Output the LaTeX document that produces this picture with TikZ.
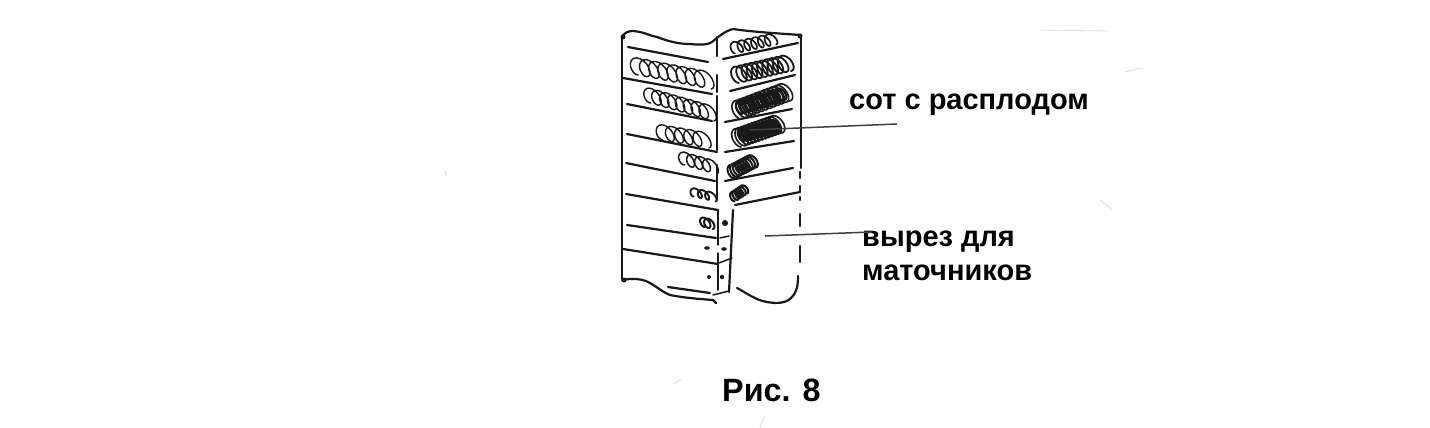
\documentclass[tikz,border=0pt]{standalone}
\usepackage{fontspec}
\setmainfont{Liberation Sans}
\newcommand{\mycoil}[7]{%
  \draw[ink,line width=#7] plot[smooth,domain=0:1,samples=\numexpr 16*#6\relax,variable=\t]
   ({#1+\t*(#3-#1)+0.75*#5*cos(360*#6*\t+90)+0.35*#5*sin(360*#6*\t+90)},{#2+\t*(#4-#2)+#5*sin(360*#6*\t+90)});}
\tikzset{
  ink/.style={draw=black!90,line cap=round,line join=round},
  pen/.style={ink,line width=2.2pt},
  thin pen/.style={ink,line width=1.5pt},
  leader/.style={draw=black!75,line width=1.5pt},
  speck/.style={draw=black!14,line width=0.8pt},
  labeltext/.style={font=\bfseries\fontsize{29}{33}\selectfont,text=black,anchor=base west,inner sep=0pt},
  captiontext/.style={font=\bfseries\fontsize{32.3}{36}\selectfont,text=black,anchor=base west,inner sep=0pt}
}
\begin{document}
\begin{tikzpicture}[x=1pt,y=-1pt]
\useasboundingbox (0,0) rectangle (1430,428);
\fill[white] (0,0) rectangle (1430,428);
% top outline
\draw[pen] (622,37) .. controls (624,33) and (628,31) .. (633,31) .. controls (645,32) and (650,36) .. (657,37)
  .. controls (670,42) and (680,44) .. (690,44) .. controls (700,45) and (708,45) .. (712,42)
  .. controls (718,37) and (725,31) .. (733,29) .. controls (745,31) and (770,33) .. (801,35);
% outer edges
\draw[pen] (622,37) -- (622,280);
\draw[pen] (801,35) -- (801,168);
\draw[pen,line width=2.6pt] (800,172) -- (800,178) (800,186) -- (800,192) (800,197) -- (800,200)
  (800,214) -- (800,226) (800,246) -- (800,262);
% centre folds
\draw[pen] (717,37) -- (717,56) (717,75) -- (717,92) (717,96) -- (717,120) (717,121) -- (717,150)
  (717,165) -- (717,200);
\draw[thin pen] (718,210) -- (718,245) (718,253) -- (718,290);
\draw[pen] (733,210) -- (729,292);
% left slats
\draw[pen] (628,47) -- (708,62);
\draw[pen] (623,78) -- (712,94);
\draw[pen] (627,104) -- (712,121);
\draw[pen] (627,134) -- (717,152);
\draw[pen] (626,163) -- (715,181);
\draw[pen] (626,194) -- (718,210);
\draw[pen] (627,225) -- (716,238);
\draw[pen] (623,249) -- (718,264);
% right slats
\draw[pen] (723,59) -- (798,43);
\draw[pen] (730,91) -- (795,75);
\draw[pen] (725,122) -- (792,109);
\draw[pen] (725,152) -- (794,141);
\draw[pen] (725,181) -- (793,168);
\draw[pen] (735,205) -- (800,192);
\draw[thin pen] (720,238) -- (729,236);
\draw[thin pen] (719,263) -- (732,258);
% bottom edges
\draw[pen] (623,280) .. controls (632,278) and (640,279) .. (646,281) .. controls (655,285) and (662,292) .. (670,295)
  .. controls (685,298) and (700,299) .. (713,300) -- (716,303);
\draw[pen] (668,287) -- (710,293);
\draw[thin pen] (713,295) -- (729,291);
\draw[pen] (737,288) .. controls (745,292) and (755,300) .. (767,302) .. controls (778,304) and (787,303) .. (792,297)
  .. controls (797,292) and (798,285) .. (798,276);
% left coils
\mycoil{635}{66}{708}{80}{9}{8}{1.4pt}
\mycoil{648}{95}{711}{113}{8}{8}{1.4pt}
\mycoil{660}{132}{706}{140}{8}{5}{1.4pt}
\mycoil{682}{158}{714}{167}{7}{4}{1.5pt}
\mycoil{692}{192}{714}{197}{4.5}{3}{1.9pt}
\mycoil{703}{222}{711}{224}{5}{2}{2pt}
% right scribbles
\mycoil{733}{48}{774}{39}{5.5}{6}{1.7pt}
\mycoil{736}{75}{788}{63}{8}{10}{1.8pt}
\mycoil{738}{110}{786}{92}{9}{12}{1.6pt}
\mycoil{740}{108}{782}{94}{6}{14}{2.2pt}
\mycoil{738}{138}{778}{124}{9}{12}{1.6pt}
\mycoil{742}{135}{776}{126}{6}{14}{2.4pt}
\mycoil{732}{172}{753}{161}{6.5}{8}{2pt}
\mycoil{733}{197}{745}{189}{4.5}{5}{2pt}
% dots
\fill[black!90] (725,223) circle (3pt);
\fill[black!90] (707,248) ellipse (2.8pt and 1.8pt);
\fill[black!90] (724,249) ellipse (2.8pt and 1.8pt);
\fill[black!90] (709,277) circle (2pt);
\fill[black!90] (722,277) circle (2.2pt);
\fill[black!90] (623,37) circle (2.5pt);
\fill[black!90] (800,36) circle (2.5pt);
\fill[black!90] (624,280) circle (2.5pt);
% labels
\node[labeltext] (brood) at (849,109) {сот с расплодом};
\node[labeltext] (cut1) at (862,246) {вырез для};
\node[labeltext] (cut2) at (862,280) {маточников};
\node[captiontext] (cap) at (722,401) {Рис. 8};
% leaders
\coordinate (broodcell) at (750,130);
\coordinate (broodend) at (897,124);
\coordinate (cutstart) at (765,236);
\coordinate (cutend) at (872,232);
\draw[leader] (broodcell) -- (broodend);
\draw[leader] (cutstart) -- (cutend);
% faint paper marks
\draw[speck] (764,416) -- (760,428);
\draw[speck] (674,384) -- (681,379);
\draw[speck] (1100,200) .. controls (1104,203) and (1108,206) .. (1112,210);
\draw[speck] (1125,72) -- (1140,68);
\draw[speck] (445,170) -- (446,176);
\draw[speck] (1040,30) -- (1108,31);
\end{tikzpicture}
\end{document}
